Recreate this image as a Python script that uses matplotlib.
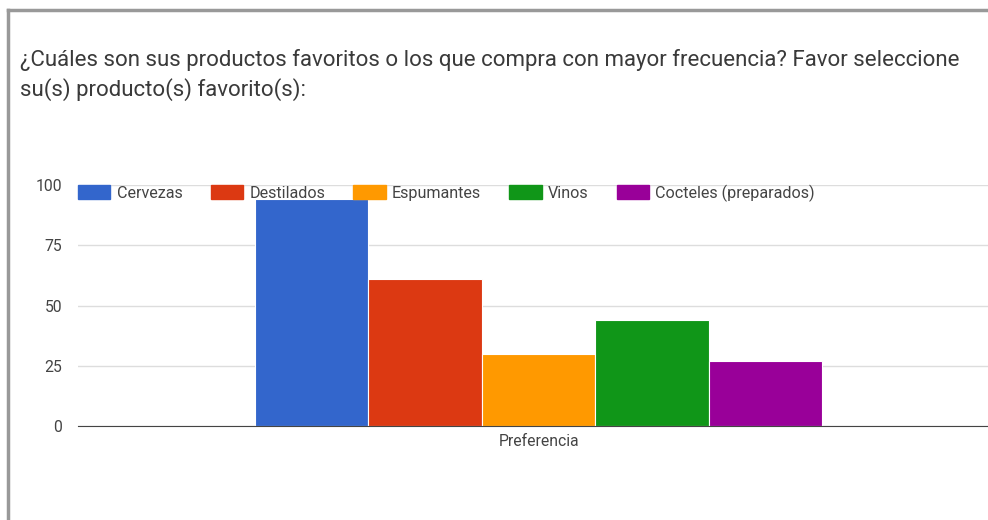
import matplotlib.pyplot as plt
from matplotlib.patches import Patch

plt.rcParams['font.family'] = ['Roboto', 'DejaVu Sans']

title = ("¿Cuáles son sus productos favoritos o los que compra con mayor frecuencia? Favor seleccione\n"
         "su(s) producto(s) favorito(s):")
series = ['Cervezas', 'Destilados', 'Espumantes', 'Vinos', 'Cocteles (preparados)']
values = [94, 61, 30, 44, 27]
colors = ['#3366cc', '#dc3912', '#ff9900', '#109618', '#990099']
category = 'Preferencia'
yticks = [0, 25, 50, 75, 100]

W, H = 988, 520
fig = plt.figure(figsize=(W / 100, H / 100), dpi=100)

# card frame (only top and left edges visible in the screenshot)
fig.add_artist(plt.Line2D([8 / W, 1], [1 - 10 / H, 1 - 10 / H], color='#999999', lw=2.5))
fig.add_artist(plt.Line2D([8 / W, 8 / W], [0, 1 - 10 / H], color='#999999', lw=2.5))

fig.text(20 / W, 1 - 49 / H, title, ha='left', va='top', fontsize=16.05,
         color='#3a3a3a', linespacing=1.42)

ax = fig.add_axes([78 / W, (H - 426) / H, 910 / W, 241 / H])
x = list(range(len(series)))
ax.bar(x, values, width=1.0, color=colors, edgecolor='white', linewidth=0.8, zorder=3)

ax.set_xlim(-2.06, 5.96)
ax.set_ylim(0, 100)
ax.set_yticks(yticks)
ax.set_xticks([(len(series) - 1) / 2])
ax.set_xticklabels([category])
ax.tick_params(axis='both', length=0, labelsize=11.3, colors='#444444')
ax.tick_params(axis='y', pad=11.5)
ax.tick_params(axis='x', pad=6)
ax.grid(axis='y', color='#dddddd', linewidth=1, zorder=0)
for s in ['top', 'right', 'left']:
    ax.spines[s].set_visible(False)
ax.spines['bottom'].set_color('#444444')
ax.spines['bottom'].set_zorder(4)

handles = [Patch(facecolor=c, edgecolor=c) for c in colors]
leg = ax.legend(handles, series, loc='upper left', bbox_to_anchor=(0, 1.003),
                ncol=5, frameon=False, fontsize=11.6,
                handlelength=2.0, handleheight=0.9, handletextpad=0.4,
                columnspacing=1.75, borderaxespad=0, borderpad=0)
for t in leg.get_texts():
    t.set_color('#444444')

fig.savefig('out.png', dpi=100)
